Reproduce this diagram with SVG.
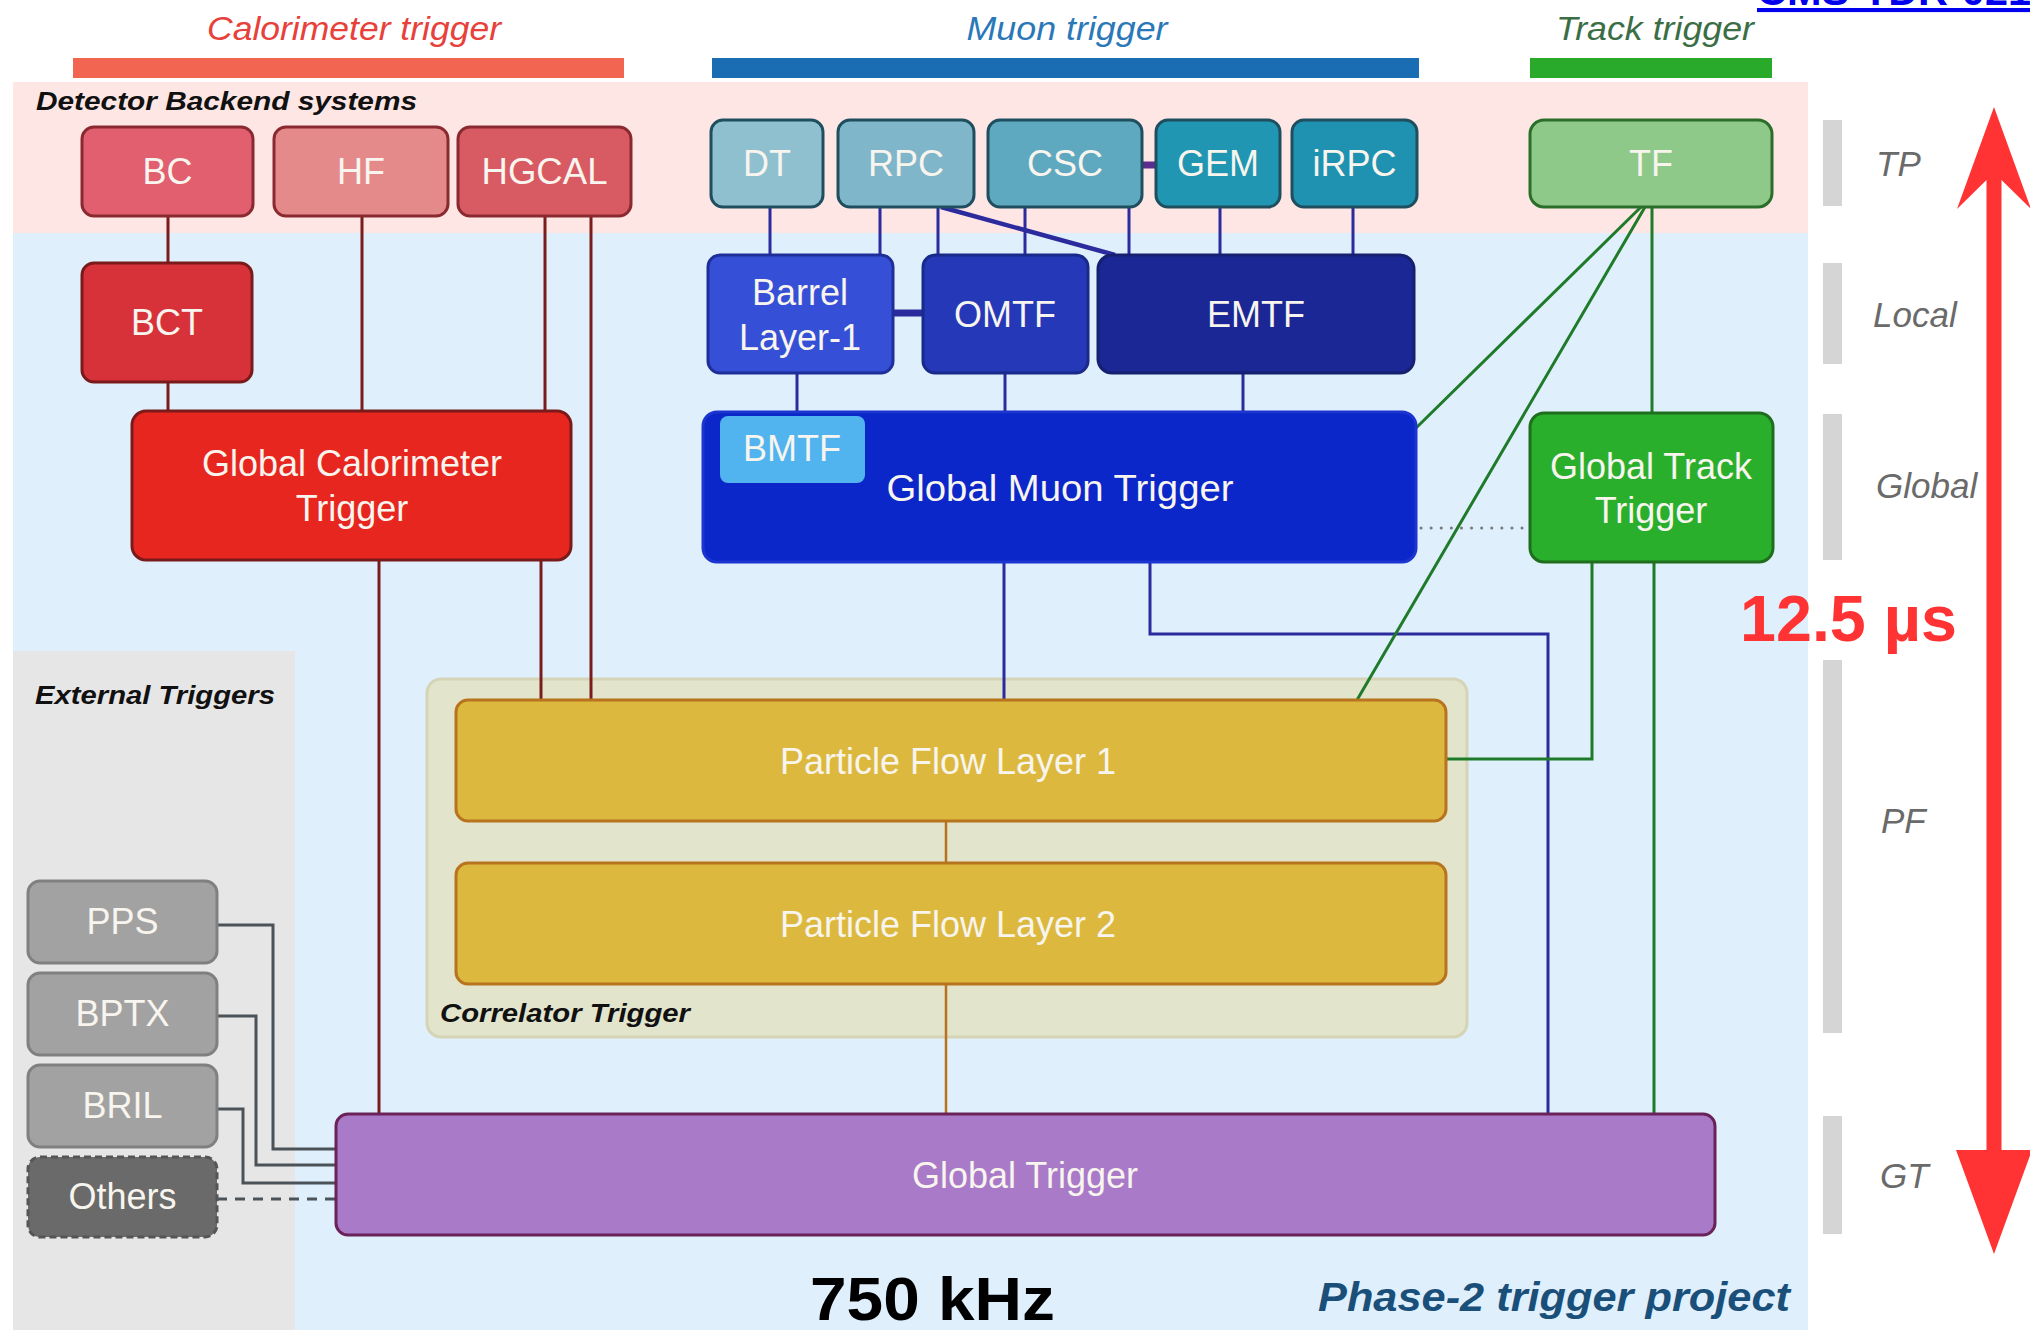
<svg xmlns="http://www.w3.org/2000/svg" width="2030" height="1330" viewBox="0 0 2030 1330">
<style>
text{font-family:"Liberation Sans",Arial,sans-serif}
.nl{fill:#f8f4ee;font-size:36px;text-anchor:middle}
.hd{font-size:34px;font-style:italic;text-anchor:middle}
.bi{font-size:26px;font-weight:bold;font-style:italic;fill:#111}
.lv{font-size:35px;font-style:italic;fill:#6a6a6a}
.bar{fill:#d5d5d5}
.cal{stroke:#7a1c1c;stroke-width:3;fill:none}
.mu{stroke:#2b2b9e;stroke-width:3;fill:none}
.tr{stroke:#1f7a2a;stroke-width:3;fill:none}
.pf{stroke:#b8721c;stroke-width:2.5;fill:none}
.ex{stroke:#4b5258;stroke-width:3;fill:none}
.box{stroke-width:3}
</style>
<rect width="2030" height="1330" fill="#ffffff"/>
<g id="backgrounds">
<rect x="13" y="82" width="1795" height="151" fill="#fde6e4"/>
<rect x="13" y="233" width="1795" height="1097" fill="#dff0fc"/>
<rect x="13" y="651" width="282" height="679" fill="#e6e6e6"/>
<rect x="73" y="58" width="551" height="20" fill="#f26550"/>
<rect x="712" y="58" width="707" height="20" fill="#1a6db3"/>
<rect x="1530" y="58" width="242" height="20" fill="#2aaa2a"/>
<text class="hd" x="354" y="40" fill="#e8403a" textLength="294" lengthAdjust="spacingAndGlyphs">Calorimeter trigger</text>
<text class="hd" x="1067" y="40" fill="#2a78b8" textLength="201" lengthAdjust="spacingAndGlyphs">Muon trigger</text>
<text class="hd" x="1655" y="40" fill="#3b6e45" textLength="198" lengthAdjust="spacingAndGlyphs">Track trigger</text>
<text class="bi" x="36" y="110" textLength="381" lengthAdjust="spacingAndGlyphs">Detector Backend systems</text>
<text class="bi" x="35" y="704" textLength="240" lengthAdjust="spacingAndGlyphs">External Triggers</text>
<text x="1757" y="5" font-size="41" font-weight="bold" fill="#0000ee" text-decoration="underline" textLength="274" lengthAdjust="spacingAndGlyphs">CMS-TDR-021</text>
</g>
<g id="correlator">
<rect x="427" y="679" width="1040" height="358" rx="14" fill="#e2e4cc" stroke="#d6d4b6" stroke-width="3"/>
<text class="bi" x="440" y="1022" textLength="250" lengthAdjust="spacingAndGlyphs">Correlator Trigger</text>
</g>
<g id="levels">
<rect class="bar" x="1823" y="120" width="19" height="86"/>
<rect class="bar" x="1823" y="263" width="19" height="101"/>
<rect class="bar" x="1823" y="414" width="19" height="146"/>
<rect class="bar" x="1823" y="660" width="19" height="373"/>
<rect class="bar" x="1823" y="1116" width="19" height="118"/>
<text class="lv" x="1876" y="176">TP</text>
<text class="lv" x="1873" y="327">Local</text>
<text class="lv" x="1876" y="498">Global</text>
<text class="lv" x="1881" y="833">PF</text>
<text class="lv" x="1880" y="1188">GT</text>
<rect x="1986.5" y="178" width="15" height="975" fill="#ff3333"/>
<polygon points="1994,107 2031,209 2001.5,180 1986.5,180 1957,209" fill="#ff3333"/>
<polygon points="1956,1150 2032,1150 1994,1254" fill="#ff3333"/>
<text x="1740" y="641" font-size="64" font-weight="bold" fill="#ff3333" textLength="217" lengthAdjust="spacingAndGlyphs">12.5 µs</text>
<text x="810" y="1320" font-size="62" font-weight="bold" fill="#000" textLength="245" lengthAdjust="spacingAndGlyphs">750 kHz</text>
<text x="1318" y="1311" font-size="41" font-weight="bold" font-style="italic" fill="#1a4f7a" textLength="472" lengthAdjust="spacingAndGlyphs">Phase-2 trigger project</text>
</g>
<g id="connectors">
<path class="cal" d="M168 216V263M168 382V411M362 216V411M545 216V411M541 560V700M591 216V700M379 560V1114"/>
<path class="mu" d="M770 207V255M880 207V255M938 207V255M1025 207V255M1129 207V255M1220 207V255M1353 207V255M797 373V412M1005 373V412M1243 373V412M1004 562V700M1150 562V634H1548V1114"/>
<path d="M941 207L1115 255" stroke="#2b2b9e" stroke-width="4.5" fill="none"/>
<path d="M893 313H923" stroke="#2b2b9e" stroke-width="7" fill="none"/>
<path d="M1142 165H1156" stroke="#5b2d8e" stroke-width="7" fill="none"/>
<path class="tr" d="M1652 207V413M1641 207L1416 428M1645 207L1357 700M1592 562V759H1446M1654 562V1114"/>
<path d="M1421 528H1528" stroke="#7a7a7a" stroke-width="3" stroke-dasharray="0.1 10" stroke-linecap="round" fill="none"/>
<path class="pf" d="M946 821V863M946 984V1114"/>
<path class="ex" d="M217 925H273V1149H336M217 1016H256V1165H336M217 1109H243V1183H336"/>
<path d="M217 1199H336" stroke="#4b5258" stroke-width="3" stroke-dasharray="10 8" fill="none"/>
</g>
<g id="BC"><rect class="box" x="82" y="127" width="171" height="89" rx="12" fill="#e15f6e" stroke="#8a2a30"/><text class="nl" x="167.5" y="184">BC</text></g>
<g id="HF"><rect class="box" x="274" y="127" width="174" height="89" rx="12" fill="#e48a8b" stroke="#8a2a30"/><text class="nl" x="361" y="184">HF</text></g>
<g id="HGCAL"><rect class="box" x="458" y="127" width="173" height="89" rx="12" fill="#d85a62" stroke="#8a2a30"/><text class="nl" x="544.5" y="184" textLength="126" lengthAdjust="spacingAndGlyphs">HGCAL</text></g>
<g id="BCT"><rect class="box" x="82" y="263" width="170" height="119" rx="12" fill="#d7323a" stroke="#7a1a1a"/><text class="nl" x="167" y="335">BCT</text></g>
<g id="GCT"><rect class="box" x="132" y="411" width="439" height="149" rx="14" fill="#e7261f" stroke="#7a1a1a"/><text class="nl" x="352" y="476">Global Calorimeter</text><text class="nl" x="352" y="521">Trigger</text></g>
<g id="DT"><rect class="box" x="711" y="120" width="112" height="87" rx="12" fill="#8ec0d0" stroke="#1f4f5f"/><text class="nl" x="767" y="176">DT</text></g>
<g id="RPC"><rect class="box" x="838" y="120" width="136" height="87" rx="12" fill="#7fb6c9" stroke="#1f4f5f"/><text class="nl" x="906" y="176">RPC</text></g>
<g id="CSC"><rect class="box" x="988" y="120" width="154" height="87" rx="12" fill="#5ea8c0" stroke="#1f4f5f"/><text class="nl" x="1065" y="176">CSC</text></g>
<g id="GEM"><rect class="box" x="1156" y="120" width="124" height="87" rx="12" fill="#2096b2" stroke="#1f4f5f"/><text class="nl" x="1218" y="176">GEM</text></g>
<g id="iRPC"><rect class="box" x="1292" y="120" width="125" height="87" rx="12" fill="#1e92b0" stroke="#1f4f5f"/><text class="nl" x="1354.5" y="176">iRPC</text></g>
<g id="TF"><rect class="box" x="1530" y="120" width="242" height="87" rx="14" fill="#8fc98a" stroke="#2a6e2a"/><text class="nl" x="1651" y="176">TF</text></g>
<g id="BarrelLayer1"><rect class="box" x="708" y="255" width="185" height="118" rx="12" fill="#3550d6" stroke="#1f2f9a"/><text class="nl" x="800" y="305">Barrel</text><text class="nl" x="800" y="350">Layer-1</text></g>
<g id="OMTF"><rect class="box" x="923" y="255" width="165" height="118" rx="12" fill="#2538b8" stroke="#1a2a8a"/><text class="nl" x="1005" y="327">OMTF</text></g>
<g id="EMTF"><rect class="box" x="1098" y="255" width="316" height="118" rx="14" fill="#1b2795" stroke="#15206f"/><text class="nl" x="1256" y="327">EMTF</text></g>
<g id="GMT"><rect class="box" x="703" y="412" width="713" height="150" rx="14" fill="#0b26c9" stroke="#1c35d0"/><rect x="720" y="416" width="145" height="67" rx="8" fill="#52b4ef"/><text class="nl" x="792" y="461">BMTF</text><text class="nl" x="1060" y="501" textLength="347" lengthAdjust="spacingAndGlyphs">Global Muon Trigger</text></g>
<g id="GTT"><rect class="box" x="1530" y="413" width="243" height="149" rx="14" fill="#2aaf2c" stroke="#1e6e1e"/><text class="nl" x="1651" y="479">Global Track</text><text class="nl" x="1651" y="523">Trigger</text></g>
<g id="PF1"><rect class="box" x="456" y="700" width="990" height="121" rx="12" fill="#dcb93e" stroke="#b8731f"/><text class="nl" x="948" y="774">Particle Flow Layer 1</text></g>
<g id="PF2"><rect class="box" x="456" y="863" width="990" height="121" rx="12" fill="#dcb93e" stroke="#b8731f"/><text class="nl" x="948" y="937">Particle Flow Layer 2</text></g>
<g id="GT"><rect class="box" x="336" y="1114" width="1379" height="121" rx="12" fill="#a97ac8" stroke="#6a2358"/><text class="nl" x="1025" y="1188">Global Trigger</text></g>
<g id="PPS"><rect class="box" x="28" y="881" width="189" height="82" rx="12" fill="#a2a2a2" stroke="#808080"/><text class="nl" x="122.5" y="934">PPS</text></g>
<g id="BPTX"><rect class="box" x="28" y="973" width="189" height="82" rx="12" fill="#a2a2a2" stroke="#808080"/><text class="nl" x="122.5" y="1026">BPTX</text></g>
<g id="BRIL"><rect class="box" x="28" y="1065" width="189" height="82" rx="12" fill="#a2a2a2" stroke="#808080"/><text class="nl" x="122.5" y="1118">BRIL</text></g>
<g id="Others"><rect class="box" x="28" y="1157" width="189" height="80" rx="12" fill="#6a6a6a" stroke="#555555" stroke-dasharray="7 4"/><text class="nl" x="122.5" y="1209">Others</text></g>
</svg>
